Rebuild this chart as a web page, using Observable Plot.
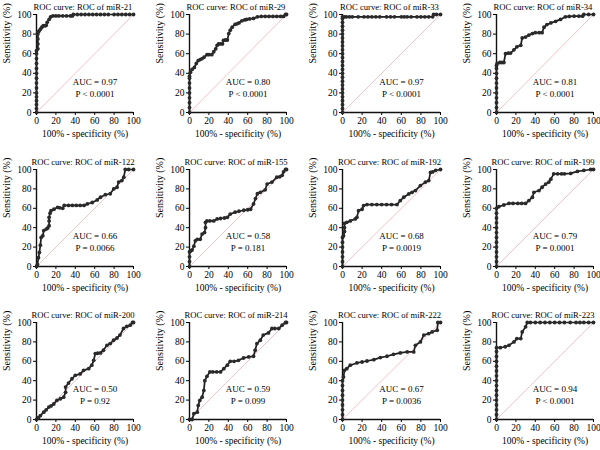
<!DOCTYPE html>
<html><head><meta charset="utf-8">
<script src="https://cdn.jsdelivr.net/npm/d3@7"></script>
<script src="https://cdn.jsdelivr.net/npm/@observablehq/plot@0.6"></script>
<style>
body{margin:0;background:#fff;}
#grid{position:relative;width:600px;height:450px;background:#fff;}
.panel{position:absolute;width:150px;height:150px;}
.panel svg{overflow:visible;}
</style></head><body><div id="grid"></div>
<script>
// ---- data ----
const mirNames = ["miR-21","miR-29","miR-33","miR-34","miR-122","miR-155","miR-192","miR-199","miR-200","miR-214","miR-222","miR-223"];
const aucValues = ["0.97","0.80","0.97","0.81","0.66","0.58","0.68","0.79","0.50","0.59","0.67","0.94"];
const pValues = ["P < 0.0001","P < 0.0001","P < 0.0001","P < 0.0001","P = 0.0066","P = 0.181","P = 0.0019","P = 0.0001","P = 0.92","P = 0.099","P = 0.0036","P < 0.0001"];
const axisTicks = [0, 20, 40, 60, 80, 100];
const chanceLine = [0, 100];
const xLabel = "100% - specificity (%)";
const yLabel = "Sensitivity (%)";

// ROC points: [100% - specificity, sensitivity]
const roc_miR21 = [[0,0],[0,4],[0,8],[0,12],[0,16],[0,20],[0,25],[0,30],[0,35],[0,40],[0,45],[0,50],[0,55],[0,60],[0,63],[1.4,65],[1.4,70],[1.4,75],[1.4,80],[1.4,82],[2.5,83],[4,85],[5.5,87],[7,88.5],[9,88.5],[10,89],[11,92],[13,95],[14.5,97.5],[17,98.5],[20,98.5],[23,98.5],[27,98.5],[31,98.5],[35,98.5],[37,98.5],[38,100],[42,100],[46,100],[50,100],[54,100],[58,100],[62,100],[66,100],[70,100],[74,100],[80,100],[84,100],[88,100],[92,100],[96,100],[100,100]];
const roc_miR29 = [[0,0],[0,5],[0,10],[0,15],[0,20],[0,25],[0,30],[0,35],[0,37],[1,41],[2.7,44],[5,46],[7,50],[9,53],[11,54],[13,55],[15,56.5],[18,59],[20,59],[23,59],[25,62],[27,65],[28.5,68.5],[30,70],[32,70],[34,70],[35,73.5],[37,74],[39,74],[40.5,80.5],[42,84],[44,87],[47,90],[49,90.5],[51,91.4],[54,93.5],[57,94.5],[59,95],[62,95.5],[66,96],[70,97.6],[74,98],[78,98],[82,98],[86,98],[90,98],[94,98],[97,98],[99,100],[100,100]];
const roc_miR33 = [[0,0],[0,4],[0,8],[0,12],[0,16],[0,20],[0,24],[0,28],[0,32],[0,36],[0,40],[0,44],[0,48],[0,52],[0,56],[0,60],[0,64],[0,68],[0,72],[0,76],[0,80],[0,84],[0,88],[0,92],[0,96],[0,97.6],[2,97.6],[4,97.6],[7,97.6],[10,97.6],[16,97.6],[22,97.6],[26,97.6],[30,97.6],[34,97.6],[38,97.6],[45,97.6],[49,97.6],[53,97.6],[60,97.6],[63,97.6],[66,97.6],[70,97.6],[76,97.6],[80,97.6],[84,97.6],[88,97.6],[92,97.6],[93,100],[96,100],[100,100]];
const roc_miR34 = [[0,0],[0,5],[0,10],[0,15],[0,20],[0,25],[0,30],[0,35],[0,40],[0,45],[0,48],[0.7,50],[3.4,51],[5.5,51],[7.6,51],[9.3,60],[12,60.5],[14.5,60.6],[18,64],[21,67],[25,68.5],[26.5,76],[30,77],[33.4,79],[37,80.5],[40,81.5],[44,81.5],[47,81.5],[49,87],[52,89.7],[56,91.4],[61,93],[66,95],[71,97.6],[75,98],[80,98.3],[85,98.3],[88.6,98.3],[90,100],[95,100],[100,100]];
const roc_miR122 = [[0,0],[1,2],[2,9],[3,14.5],[4,22],[4.8,30],[6.5,31.7],[7.5,37],[10,38.6],[11.6,39.7],[13,42],[13,47],[13,50.7],[14,55],[15,57.6],[18,59],[21.8,61],[24,60.5],[27,60],[28.6,63],[33,63],[37,63],[41,63],[45,63],[49,63],[52.4,64.5],[57.5,66],[62.6,68.6],[66,71.4],[71,74],[76,75],[79.6,80],[83,81.7],[84.7,87],[88,88.6],[90,92],[91.5,100],[95,100],[100,100]];
const roc_miR155 = [[0,0],[0,5],[0,10],[0,15],[1,16],[2.7,17],[4.5,21],[6,26.5],[8,28],[11,28],[13,33.4],[15.5,35],[16.5,40],[16.5,45.5],[18,47],[21,47],[25,47],[28.5,49],[32,49.5],[36,50],[39,50.7],[42,54],[47,56],[51,57],[56,58],[60,58.5],[63,59],[66,64.5],[68,70],[70,75],[73,76.5],[78,79],[80,85],[85,87],[90,92],[93,92.5],[95.5,94],[97,97.6],[99,100],[100,100]];
const roc_miR192 = [[0,0],[0,5],[0,10],[0,15],[0,20],[0,25],[0,30],[1,31.7],[2,36],[2,40],[2,44.5],[4.4,45.5],[8,47],[13,49],[14.7,50.7],[16.4,57.6],[20,59],[21.5,62.8],[25,63.8],[30,63.8],[35,63.8],[40,63.8],[45,63.8],[50,63.8],[55.6,63.8],[59,68],[62.5,71.4],[67.6,74.8],[71,76.5],[74.4,78.3],[79.5,83.4],[84.6,87],[88,88.6],[89.8,97],[92,97.5],[95,99],[100,100]];
const roc_miR199 = [[0,0],[0,5],[0,10],[0,15],[0,20],[0,25],[0,30],[0,35],[0,40],[0,45],[0,50],[0,55],[0,60],[2.4,61.7],[7.6,63.4],[12.8,65],[17,65],[22,65],[26,65],[30,65],[33.4,68],[37,71.4],[38.6,76.5],[43.8,78.3],[47,81.7],[50.7,85],[54,87],[56,90],[59,95.5],[63,95.5],[67,95.5],[70,95.5],[76.5,96],[83.4,98],[90,99],[97,100],[100,100]];
const roc_miR200 = [[0,0],[2,2],[4,4],[7.5,7.6],[10,10],[12.7,12.8],[15,14],[17.8,16],[21,19.7],[24.7,21.4],[28,23],[30,28],[30,33.4],[33,37.6],[36.6,42],[40,45.5],[45,47],[48.6,50.7],[53.8,52.4],[57,56],[59,61],[60.6,68],[63,68.3],[66,68.6],[69,71.4],[72.6,76.5],[76,78.3],[79.5,81.7],[83,84],[86,87],[89.7,93.8],[93,96],[96.6,97.2],[99,100],[100,100]];
const roc_miR214 = [[0,0],[2.7,0],[4.5,6],[8,7.6],[9,14.5],[10.6,19.7],[13,23],[14.8,30],[15.8,40],[18,44.5],[21,49],[24,49],[28,49],[32,49],[35.4,52.4],[39,56],[42,60],[46,60],[50.5,61],[55.7,63.4],[61,64.5],[66,65.2],[67.7,71.4],[69.5,78.3],[73,81.7],[76,87],[81.4,89.3],[85,93.8],[88,93.8],[92,93.8],[95.5,97.2],[99,100],[100,100]];
const roc_miR222 = [[0,0],[0,5],[0,10],[0,15],[0,20],[0,25],[0,30],[0,35],[0,40],[1,43.8],[2,50.7],[4.4,52.4],[8,56],[14.7,58.3],[20,59.3],[25,60.3],[32,61.7],[38.6,63.8],[45.4,65.2],[52,67.2],[59,68.6],[66,69.7],[72.7,69.7],[74.4,76.5],[79.5,80],[83,87],[88,88.6],[91.5,90.3],[96.6,92],[97.3,100],[100,100]];
const roc_miR223 = [[0,0],[0,5],[0,10],[0,15],[0,20],[0,25],[0,30],[0,35],[0,40],[0,45],[0,50],[0,55],[0,60],[0,65],[0,70],[0,74],[4,74],[9,75],[12.8,76.5],[18,80],[21,83.4],[25,83.4],[26.5,90.3],[30,95.5],[31.7,100],[35,100],[40,100],[45,100],[50,100],[55,100],[60,100],[65,100],[70,100],[76,100],[82,100],[86,100],[90,100],[95,100],[100,100]];

const curves = [roc_miR21, roc_miR29, roc_miR33, roc_miR34, roc_miR122, roc_miR155, roc_miR192, roc_miR199, roc_miR200, roc_miR214, roc_miR222, roc_miR223];

// ---- layout ----
const colMargins = [[36,17],[39,14],[42,10],[46,7]];
const rowMargins = [[14,38],[19,34],[22,31]];
const FONT = '"Liberation Serif", "Times New Roman", serif';

const grid = document.getElementById("grid");
mirNames.forEach((name, i) => {
  const row = Math.floor(i / 4), col = i % 4;
  const curve = curves[i];
  const chart = Plot.plot({
    width: 150, height: 150,
    marginLeft: colMargins[col][0], marginRight: colMargins[col][1],
    marginTop: rowMargins[row][0], marginBottom: rowMargins[row][1],
    style: {fontFamily: FONT, fontSize: "9.5px", color: "#000", background: "transparent", overflow: "visible"},
    x: {domain: [0, 100], ticks: axisTicks, tickSize: 3, tickPadding: 2, label: null},
    y: {domain: [0, 100], ticks: axisTicks, tickSize: 3, tickPadding: 2, label: null},
    marks: [
      Plot.line(chanceLine, {x: d => d, y: d => d, stroke: "#f6b3b9", strokeWidth: 0.8}),
      Plot.ruleX([0], {stroke: "#111", strokeWidth: 1.4}),
      Plot.ruleY([0], {stroke: "#111", strokeWidth: 1.4}),
      Plot.line(curve, {x: d => d[0], y: d => d[1], stroke: "#1e1e1e", strokeWidth: 1.7}),
      Plot.dot(curve, {x: d => d[0], y: d => d[1], r: 1.9, fill: "#2a2a2a"}),
      Plot.text(["ROC curve: ROC of " + name], {text: d => d, frameAnchor: "top", dx: -2, dy: -10.5, fontSize: 8.6, fill: "#000"}),
      Plot.text([xLabel], {text: d => d, frameAnchor: "bottom", dy: 24, fontSize: 9.5, fill: "#000"}),
      Plot.text([yLabel], {text: d => d, frameAnchor: "left", rotate: -90, dx: -30, fontSize: 10, fill: "#000"}),
      Plot.text(["AUC = " + aucValues[i]], {text: d => d, frameAnchor: "bottom", dx: 10, dy: -28, fontSize: 9, fill: "#000"}),
      Plot.text([pValues[i]], {text: d => d, frameAnchor: "bottom", dx: 10, dy: -16, fontSize: 9, fill: "#000"})
    ]
  });
  const div = document.createElement("div");
  div.className = "panel";
  div.style.left = (col * 150) + "px";
  div.style.top = (row * 150) + "px";
  div.appendChild(chart);
  grid.appendChild(div);
});
</script></body></html>
